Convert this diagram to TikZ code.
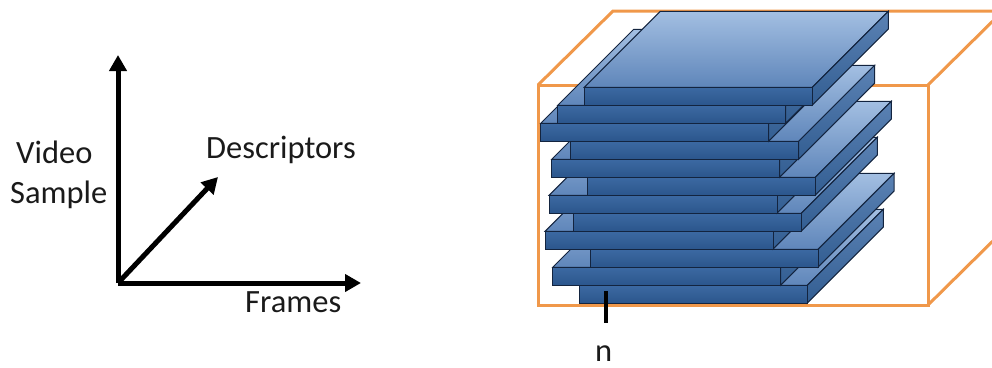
\documentclass[tikz,border=0pt]{standalone}
\usepackage{fontspec}
\setmainfont{Carlito}
\usetikzlibrary{arrows.meta}

\definecolor{boxorange}{RGB}{240,152,74}
\definecolor{slabedge}{RGB}{19,36,63}
\definecolor{topback}{RGB}{163,191,226}
\definecolor{topfront}{RGB}{95,134,186}
\definecolor{fronttop}{RGB}{60,105,162}
\definecolor{frontbot}{RGB}{43,86,140}
\definecolor{sidetop}{RGB}{91,130,180}
\definecolor{sidebot}{RGB}{51,94,146}
\definecolor{inktext}{RGB}{26,26,26}

\tikzset{
  axisline/.style={line width=5pt, -{Triangle[length=16pt,width=17pt]}},
  label/.style={font=\fontsize{32.5}{39}\selectfont, text=inktext, inner sep=0pt, anchor=base west},
  cubeline/.style={draw=boxorange, line width=3pt, line join=miter},
  slabtop/.style={draw=slabedge, line width=1pt, top color=topback, bottom color=topfront},
  slabfront/.style={draw=slabedge, line width=1pt, top color=fronttop, bottom color=frontbot},
  slabside/.style={draw=slabedge, line width=1pt, top color=sidetop, bottom color=sidebot},
}

% one flat slab: #1 = left x, #2 = top y of its front face
\newcommand\drawslab[2]{%
  \path[slabtop] (#1,#2) -- ++(76,-76) -- ++(228,0) -- ++(-76,76) -- cycle;
  \path[slabside] (#1+228,#2) -- ++(76,-76) -- ++(0,17.8) -- ++(-76,76) -- cycle;
  \path[slabfront] (#1,#2) rectangle ++(228,17.8);
}

\begin{document}
\begin{tikzpicture}[x=1pt,y=-1pt]
\useasboundingbox (0,0) rectangle (992,367);
\clip (0,0) rectangle (992,367);

% three axes
\coordinate (O) at (118,283);
\coordinate (Ytip) at (118,55);
\coordinate (Xtip) at (361,283);
\coordinate (Dtip) at (218,177);
\draw[axisline] (O) -- (Ytip);
\draw[axisline] (O) -- (Xtip);
\draw[axisline] (O) -- (Dtip);

\node[label] (video) at (16,163) {Video};
\node[label] (sample) at (10,203) {Sample};
\node[label] (desc) at (206,158) {Descriptors};
\node[label] (frames) at (245,312) {Frames};

% orange bounding cube
\coordinate (c1) at (538,85);
\coordinate (c2) at (928,85);
\coordinate (c3) at (928,305);
\coordinate (c4) at (538,305);
\coordinate (b1) at (613,11);
\coordinate (b2) at (1003,11);
\coordinate (b3) at (1003,231);
\draw[cubeline] (c1) -- (c2) -- (c3) -- (c4) -- cycle;
\draw[cubeline] (c1) -- (b1) -- (b2) -- (b3) -- (c3);
\draw[cubeline] (c2) -- (b2);

% stack of slabs, lowest first
\drawslab{579.3}{285.3}
\drawslab{552.7}{267.3}
\drawslab{590}{249.3}
\drawslab{545}{231.3}
\drawslab{573.3}{213.3}
\drawslab{549}{195.3}
\drawslab{587.3}{177.3}
\drawslab{551.7}{159.3}
\drawslab{570.7}{141.3}
\drawslab{540.7}{123.3}
\drawslab{557.7}{105.3}
\drawslab{584.3}{87.3}

% index marker
\coordinate (ntop) at (606,291);
\coordinate (nbot) at (606,323);
\draw[line width=4pt] (ntop) -- (nbot);
\node[label] (n) at (595,361.5) {n};
\end{tikzpicture}
\end{document}
